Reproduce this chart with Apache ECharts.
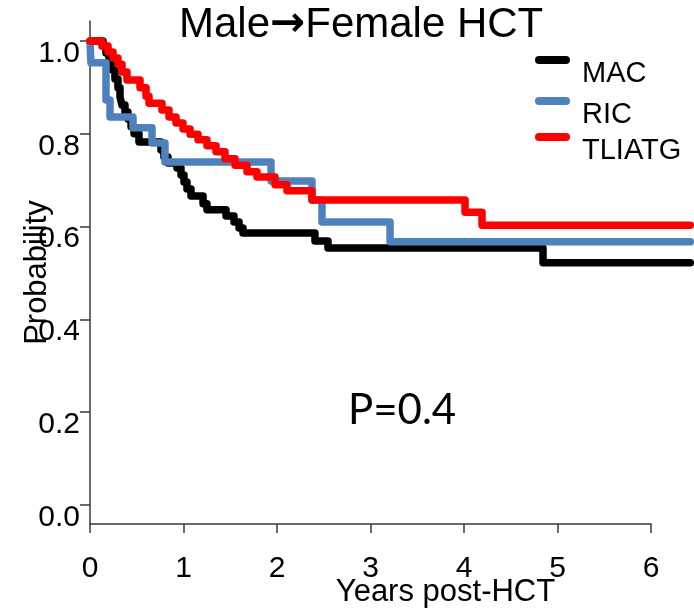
<!DOCTYPE html>
<html>
<head>
<meta charset="utf-8">
<title>Male→Female HCT</title>
<script src="https://cdn.jsdelivr.net/npm/echarts@6/dist/echarts.min.js"></script>
<style>
  html, body { margin: 0; padding: 0; background: #fff; }
  #chart { width: 694px; height: 611px; }
</style>
</head>
<body>
<div id="chart"></div>
<script>
// Kaplan-Meier survival estimates by conditioning regimen: [years post-HCT, probability]
const MAC = [
  [0, 1.0], [0.139, 0.989], [0.171, 0.974], [0.203, 0.957], [0.235, 0.938],
  [0.267, 0.918], [0.299, 0.899], [0.321, 0.879], [0.342, 0.862], [0.374, 0.847],
  [0.406, 0.832], [0.439, 0.815], [0.471, 0.800], [0.524, 0.782], [0.759, 0.765],
  [0.791, 0.750], [0.834, 0.737], [0.930, 0.726], [0.973, 0.711], [1.005, 0.696],
  [1.037, 0.681], [1.080, 0.666], [1.209, 0.649], [1.251, 0.636], [1.455, 0.623],
  [1.540, 0.610], [1.594, 0.597], [1.636, 0.586], [2.406, 0.569], [2.545, 0.554],
  [4.845, 0.522], [6.42, 0.522]
];
const RIC = [
  [0, 1.0], [0.010, 0.953], [0.171, 0.873], [0.214, 0.836], [0.460, 0.813],
  [0.663, 0.780], [0.802, 0.739], [1.936, 0.698], [2.374, 0.657], [2.481, 0.610],
  [3.209, 0.567], [6.42, 0.567]
];
const TLIATG = [
  [0, 1.0], [0.128, 0.989], [0.193, 0.976], [0.246, 0.963], [0.299, 0.950],
  [0.342, 0.933], [0.396, 0.916], [0.535, 0.899], [0.599, 0.881], [0.631, 0.866],
  [0.770, 0.851], [0.845, 0.836], [0.920, 0.823], [0.995, 0.810], [1.070, 0.799],
  [1.155, 0.787], [1.251, 0.774], [1.348, 0.761], [1.444, 0.746], [1.551, 0.732],
  [1.679, 0.718], [1.786, 0.707], [1.979, 0.690], [2.107, 0.677], [2.374, 0.657],
  [4.011, 0.631], [4.193, 0.603], [6.42, 0.603]
];

const groupNames = ['MAC', 'RIC', 'TLIATG'];
const groupColors = ['#000000', '#4F81BD', '#FF0000'];
const groupData = [MAC, RIC, TLIATG];

const xTicks = [0, 1, 2, 3, 4, 5, 6];
const yTicks = [0, 0.2, 0.4, 0.6, 0.8, 1.0];
const pValueText = 'P=0.4';

// follow-up extends a little past the last labelled year
const followUpEnd = 6.42;
const yMin = -0.041;
const yMax = 1.043;

const FONT = '"Liberation Sans", Arial, sans-serif';
const AXIS_COLOR = '#3a3a3a';

// rounded bar used as legend key
const pillIcon = 'path://M4,0 L31,0 A4,4 0 0 1 31,8 L4,8 A4,4 0 0 1 4,0 Z';
const legendTops = [56, 97, 133];

const PX_PER_YEAR = (694 - 90 - 43) / 6;
const plotTop = 21, plotBottom = 87, plotLeft = 90;

const chart = echarts.init(document.getElementById('chart'), null, { renderer: 'canvas' });

chart.setOption({
  animation: false,
  backgroundColor: '#ffffff',
  title: {
    text: '{t|Male}{a|→}{t|Female HCT}',
    left: 179,
    top: 4,
    padding: 0,
    textStyle: {
      fontWeight: 'normal',
      rich: {
        t: { fontFamily: FONT, fontSize: 42, fontWeight: 'normal', color: '#000' },
        a: { fontFamily: '"DejaVu Sans", sans-serif', fontWeight: 'bold', fontSize: 42, color: '#000' }
      }
    }
  },
  legend: groupNames.map((name, i) => ({
    data: [name],
    left: 535,
    top: legendTops[i],
    padding: 0,
    orient: 'vertical',
    icon: pillIcon,
    itemWidth: 35,
    itemHeight: 8,
    selectedMode: false,
    formatter: '{n|{name}}',
    textStyle: {
      rich: {
        n: { fontFamily: FONT, fontSize: 29, color: '#000', padding: [28, 0, 0, 7] }
      }
    }
  })),
  grid: [
    // visible axes frame
    { left: plotLeft, right: 43, top: plotTop, bottom: plotBottom, containLabel: false, outerBoundsMode: 'none' },
    // plotting area for the curves, running to the end of follow-up
    { left: plotLeft, right: 694 - plotLeft - PX_PER_YEAR * followUpEnd, top: plotTop, bottom: plotBottom,
      containLabel: false, outerBoundsMode: 'none' }
  ],
  xAxis: [{
    gridIndex: 0,
    type: 'value',
    min: xTicks[0],
    max: xTicks[xTicks.length - 1],
    interval: 1,
    name: 'Years post-HCT',
    nameLocation: 'middle',
    nameGap: 53,
    nameMoveOverlap: false,
    nameTextStyle: { fontFamily: FONT, fontSize: 31, color: '#000', padding: [0, 0, 0, 150] },
    axisLine: { show: true, onZero: false, lineStyle: { color: AXIS_COLOR, width: 1.5 } },
    axisTick: { show: true, length: 9, lineStyle: { color: AXIS_COLOR, width: 1.5 } },
    axisLabel: { fontFamily: FONT, fontSize: 30, color: '#000', margin: 30 },
    splitLine: { show: false }
  }, {
    gridIndex: 1,
    type: 'value',
    min: 0,
    max: followUpEnd,
    show: false
  }],
  yAxis: [{
    gridIndex: 0,
    type: 'value',
    min: yMin,
    max: yMax,
    name: 'Probability',
    nameLocation: 'middle',
    nameGap: 37,
    nameMoveOverlap: false,
    nameTextStyle: { fontFamily: FONT, fontSize: 31, color: '#000' },
    axisLine: { show: true, lineStyle: { color: AXIS_COLOR, width: 1.5 } },
    axisTick: { show: true, length: 10, customValues: yTicks, lineStyle: { color: AXIS_COLOR, width: 1.5 } },
    axisLabel: {
      fontFamily: FONT, fontSize: 30, color: '#000', margin: 10,
      customValues: yTicks,
      verticalAlign: 'top', lineHeight: 25,
      formatter: v => v.toFixed(1)
    },
    splitLine: { show: false }
  }, {
    gridIndex: 1,
    type: 'value',
    min: yMin,
    max: yMax,
    show: false
  }],
  graphic: [{
    type: 'text',
    left: 348,
    top: 389,
    style: { text: pValueText, font: '42px Lato, "Open Sans", sans-serif', fill: '#000' }
  }],
  series: groupNames.map((name, i) => ({
    name,
    type: 'line',
    xAxisIndex: 1,
    yAxisIndex: 1,
    step: 'end',
    data: groupData[i],
    symbol: 'none',
    clip: false,
    color: groupColors[i],
    lineStyle: { color: groupColors[i], width: 7.5, cap: 'round', join: 'round' },
    z: 2 + i
  }))
});
</script>
</body>
</html>
